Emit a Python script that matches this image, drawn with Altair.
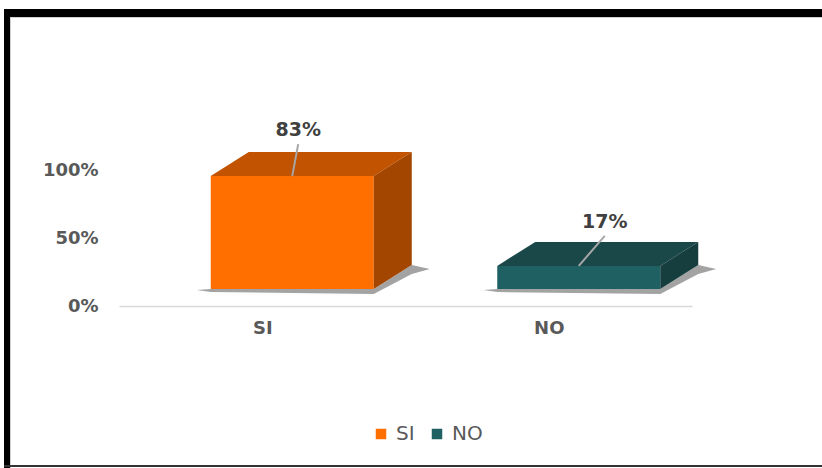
import altair as alt
import pandas as pd

# ---- data ----
categories = ["SI", "NO"]
values = [0.83, 0.17]
value_labels = ["83%", "17%"]

# ---- style ----
front_colors = ["#FF6F00", "#1F6063"]
top_colors = ["#C25300", "#1A4849"]
side_colors = ["#A24600", "#163E3F"]
FONT = "DejaVu Sans"

W, H = 573, 272
XD, YD = 2.0, 2.0
PX = W / XD   # px per x unit
PY = H / YD   # px per y unit
shift = 30 / PX
half_w = 81.5 / PX
dx = 38 / PX
dy = 24 / PY
lift = 17 / PY
lbl_dx_px = [6, 26]
line_top_px = [32, 30]
lbl_up_px = [46, 44]

front_rows, top_rows, side_rows, shadow_rows, lbl_rows = [], [], [], [], []
for i, (cat, v) in enumerate(zip(categories, values)):
    c = i + 0.5
    x0 = c + shift - half_w
    x1 = c + shift + half_w
    yb = lift
    yt = lift + v
    front_rows.append(dict(cat=cat, x=x0, x2=x1, y=yb, y2=yt))
    for (xx, lo, hi) in [(x0, yt, yt), (x0 + dx, yt, yt + dy), (x1, yt, yt + dy), (x1 + dx, yt + dy, yt + dy)]:
        top_rows.append(dict(cat=cat, fill=top_colors[i], x=xx, y=lo, y2=hi))
    for (xx, lo, hi) in [(x1, yb, yt), (x1 + dx, yb + dy, yt + dy)]:
        side_rows.append(dict(cat=cat, fill=side_colors[i], x=xx, y=lo, y2=hi))
    for (xx, lo, hi) in [(x0 - 14 / PX, yb - 1 / PY, yb - 1 / PY),
                         (x0, yb - 3 / PY, yb),
                         (x1, yb - 5 / PY, yb),
                         (x1 + dx, yb + dy - 9 / PY, yb + dy),
                         (x1 + dx + 18 / PX, yb + dy - 4 / PY, yb + dy - 4 / PY)]:
        shadow_rows.append(dict(cat=cat, x=xx, y=lo, y2=hi))
    fc = c + shift
    lbl_rows.append(dict(cat=cat, label=value_labels[i],
                         lx=fc, ly=yt,
                         lx2=fc + lbl_dx_px[i] / PX, ly2=yt + line_top_px[i] / PY,
                         tx=fc + lbl_dx_px[i] / PX, ty=yt + lbl_up_px[i] / PY))

front_df = pd.DataFrame(front_rows)
top_df = pd.DataFrame(top_rows)
side_df = pd.DataFrame(side_rows)
shadow_df = pd.DataFrame(shadow_rows)
lbl_df = pd.DataFrame(lbl_rows)

xscale = alt.Scale(domain=[0, XD], nice=False, zero=False)
yscale = alt.Scale(domain=[0, YD], nice=False)
xaxis = alt.Axis(values=[0.5, 1.5], labelExpr="datum.value < 1 ? 'SI' : 'NO'",
                 grid=False, ticks=False, domainColor="#D9D9D9", domainWidth=1.5,
                 labelPadding=13, labelFontSize=18, labelFontWeight="bold",
                 labelColor="#595959", labelFont=FONT, title=None)
yaxis = alt.Axis(values=[0, 0.5, 1], format=".0%", grid=False, ticks=False, domain=False,
                 labelPadding=21, labelFontSize=18, labelFontWeight="bold",
                 labelColor="#595959", labelFont=FONT, title=None)


def X(f="x"):
    return alt.X(f"{f}:Q", scale=xscale, axis=xaxis)


def Y(f="y"):
    return alt.Y(f"{f}:Q", scale=yscale, axis=yaxis)


shadow = alt.Chart(shadow_df).mark_area(orient="vertical", color="#333333", opacity=0.45).encode(
    x=X(), y=Y(), y2="y2:Q", detail="cat:N")

front = alt.Chart(front_df).mark_rect().encode(
    x=X(), x2="x2:Q", y=Y(), y2="y2:Q",
    color=alt.Color("cat:N", scale=alt.Scale(domain=categories, range=front_colors),
                    legend=alt.Legend(orient="none", legendX=252, legendY=390,
                                      direction="horizontal", title=None,
                                      symbolType="square", symbolSize=110,
                                      symbolStrokeWidth=0, labelFontSize=20,
                                      labelColor="#595959", labelFont=FONT,
                                      columnPadding=12, labelOffset=5)))

top = alt.Chart(top_df).mark_area(orient="vertical").encode(
    x=X(), y=Y(), y2="y2:Q", detail="cat:N", fill=alt.Fill("fill:N", scale=None))

side = alt.Chart(side_df).mark_area(orient="vertical").encode(
    x=X(), y=Y(), y2="y2:Q", detail="cat:N", fill=alt.Fill("fill:N", scale=None))

leader = alt.Chart(lbl_df).mark_rule(color="#A6A6A6", strokeWidth=2).encode(
    x=X("lx"), x2="lx2:Q", y=Y("ly"), y2="ly2:Q")

labels = alt.Chart(lbl_df).mark_text(fontSize=19, fontWeight="bold", color="#404040",
                                      font=FONT, baseline="middle").encode(
    x=X("tx"), y=Y("ty"), text="label:N")

one = pd.DataFrame({"a": [0]})
border_top = alt.Chart(one).mark_rule(color="#000000", strokeWidth=8).encode(
    x=alt.value(-115), x2=alt.value(703), y=alt.value(-21))
border_top_in = alt.Chart(one).mark_rule(color="#D0D0D0", strokeWidth=1).encode(
    x=alt.value(-109), x2=alt.value(703), y=alt.value(-16.5))
border_left = alt.Chart(one).mark_rule(color="#000000", strokeWidth=6).encode(
    x=alt.value(-112), y=alt.value(-25), y2=alt.value(434))
border_left_in = alt.Chart(one).mark_rule(color="#D0D0D0", strokeWidth=1).encode(
    x=alt.value(-108.5), y=alt.value(-17), y2=alt.value(434))
border_bottom = alt.Chart(one).mark_rule(color="#333333", strokeWidth=2).encode(
    x=alt.value(-115), x2=alt.value(703), y=alt.value(432))

chart = alt.layer(
    shadow, front, top, side, leader, labels,
    border_top, border_top_in, border_left, border_left_in, border_bottom
).resolve_scale(color="independent", fill="independent").properties(
    width=W, height=H,
    autosize=alt.AutoSizeParams(type="none"),
    padding={"left": 119, "top": 34, "right": 130, "bottom": 162},
    background="#FFFFFF",
).configure_view(stroke=None)

chart.save("out.html", embed_options={"renderer": "svg", "actions": False})
